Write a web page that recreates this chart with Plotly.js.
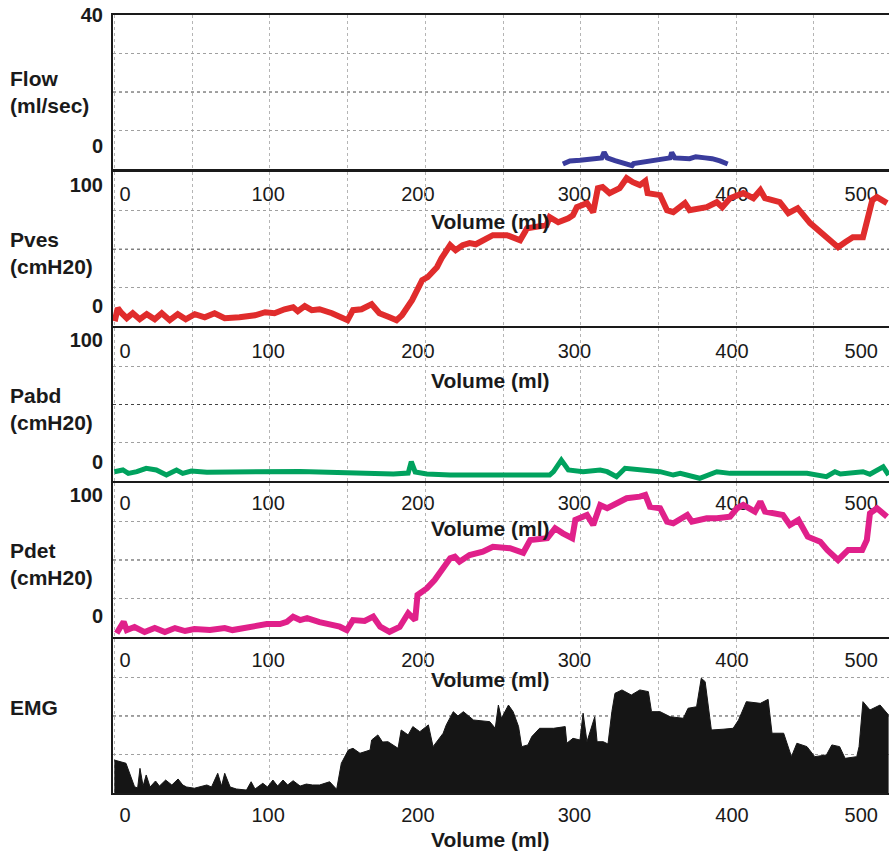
<!DOCTYPE html>
<html>
<head>
<meta charset="utf-8">
<script src="https://cdn.plot.ly/plotly-3.0.1.min.js"></script>
<style>html,body{margin:0;padding:0;background:#fff;}#chart{width:889px;height:852px;}</style>
</head>
<body>
<div id="chart"></div>
<script>
// x values: recording time in grid divisions; volume tick labels sit where that volume was reached
const volTickPos = [0.138, 1.978, 3.904, 5.918, 7.945, 9.608];
const volTickText = ['0', '100', '200', '300', '400', '500'];
const xTitleText = 'Volume (ml)';

// Flow (ml/sec)
const flowT = [5.77,5.86,5.99,6.12,6.19,6.27,6.30,6.34,6.44,6.57,6.66,6.68,6.83,7.02,7.15,7.17,7.21,7.40,7.48,7.60,7.69,7.79,7.89];
const flowV = [1.3,2.1,2.3,2.6,3.0,2.9,4.4,2.9,2.2,1.6,0.9,1.4,1.8,2.3,2.9,4.3,2.9,2.7,3.2,2.9,2.7,2.1,1.3];

// Pves (cmH20)
const pvesT = [0.005,0.044,0.095,0.16,0.237,0.327,0.417,0.52,0.61,0.713,0.816,0.919,1.035,1.163,1.29,1.42,1.61,1.81,1.94,2.06,2.19,2.30,2.36,2.45,2.54,2.64,2.80,2.94,3.00,3.07,3.18,3.31,3.41,3.54,3.63,3.70,3.83,3.96,4.03,4.15,4.21,4.32,4.39,4.48,4.57,4.65,4.74,4.87,5.05,5.22,5.31,5.47,5.56,5.60,5.71,5.84,5.90,5.95,6.08,6.16,6.22,6.28,6.37,6.50,6.59,6.67,6.76,6.83,6.86,7.02,7.11,7.19,7.34,7.40,7.62,7.75,7.82,7.92,8.09,8.22,8.31,8.37,8.56,8.67,8.79,8.95,9.05,9.17,9.31,9.40,9.50,9.63,9.69,9.75,9.81,9.94];
const pvesV = [3.2,11.7,8.4,5.2,8.4,4.5,7.8,4.5,8.4,3.9,7.8,4.5,7.8,5.8,8.4,5.2,5.8,7.1,9.1,8.4,11.0,12.3,9.7,13.0,10.4,11.0,8.4,5.8,3.9,10.4,11.0,14.3,8.4,5.8,3.9,7.1,16.9,29.9,31.8,38.3,44.2,52.6,49.4,52.6,53.9,53.2,55.8,59.1,59.1,55.8,63.6,64.9,65.6,70.8,67.5,70.1,72.1,77.3,79.9,74.0,89.6,90.3,86.4,89.6,96.1,93.5,91.6,94.2,86.4,85.1,75.3,74.0,79.9,75.3,77.3,80.5,77.3,83.1,86.4,83.1,88.3,83.1,80.5,73.4,76.6,66.9,62.3,57.1,51.3,54.5,57.8,57.8,68.8,81.8,83.8,79.9];

// Pabd (cmH20)
const pabdT = [0.0,0.11,0.18,0.29,0.41,0.54,0.67,0.80,0.88,0.99,1.19,2.39,3.59,3.78,3.82,3.87,4.02,4.32,5.60,5.65,5.75,5.84,6.03,6.25,6.34,6.46,6.57,7.02,7.19,7.28,7.53,7.62,7.75,7.92,8.60,8.91,9.16,9.27,9.34,9.63,9.72,9.89,9.96];
const pabdV = [6.1,7.2,5.0,6.1,8.3,7.2,3.9,7.2,5.0,6.5,5.7,6.3,4.6,5.2,12.6,5.9,4.6,3.9,3.9,6.1,13.7,7.2,6.1,7.2,6.1,2.8,8.3,6.1,3.9,5.0,1.8,3.9,6.1,5.0,5.4,5.0,2.8,6.1,4.6,6.1,4.4,9.3,3.9];

// Pdet (cmH20)
const pdetT = [0.03,0.12,0.16,0.26,0.39,0.52,0.65,0.78,0.91,1.03,1.23,1.42,1.52,1.78,1.96,2.13,2.22,2.30,2.39,2.48,2.64,2.90,2.99,3.07,3.22,3.33,3.42,3.54,3.67,3.78,3.87,3.90,4.02,4.12,4.23,4.32,4.38,4.44,4.57,4.74,4.87,5.09,5.26,5.35,5.57,5.67,5.77,5.89,5.93,6.08,6.16,6.25,6.34,6.47,6.59,6.76,6.83,6.89,7.02,7.11,7.19,7.37,7.43,7.62,7.75,7.92,8.01,8.09,8.24,8.31,8.37,8.60,8.69,8.80,8.92,9.08,9.17,9.31,9.44,9.62,9.68,9.72,9.81,9.94];
const pdetV = [2.4,9.9,4.5,6.5,3.2,5.8,3.2,5.8,3.9,5.2,4.5,5.8,4.5,6.7,8.4,8.4,9.9,13.2,11.0,12.3,9.7,6.7,4.5,11.0,10.4,13.2,6.7,3.4,6.5,15.4,11.0,27.3,31.6,37.0,44.6,51.1,52.1,48.9,53.2,55.4,58.6,57.6,54.7,63.0,64.1,70.6,67.3,64.1,76.0,79.2,72.7,85.7,83.6,86.8,90.1,91.1,92.2,84.6,83.6,74.9,73.8,79.2,74.9,77.1,77.1,78.1,83.6,85.7,81.4,87.9,81.4,79.2,72.7,76.0,65.1,61.9,56.5,50.0,56.5,56.5,63.0,80.3,83.6,78.1];

// EMG (relative amplitude)
const emgT = [0.0,0.15,0.26,0.30,0.33,0.37,0.41,0.46,0.53,0.58,0.66,0.74,0.82,0.88,0.93,1.03,1.19,1.25,1.33,1.38,1.42,1.49,1.57,1.70,1.76,1.81,1.91,1.97,2.04,2.10,2.17,2.23,2.30,2.39,2.47,2.55,2.64,2.77,2.86,2.92,3.01,3.07,3.16,3.29,3.31,3.39,3.45,3.52,3.65,3.69,3.78,3.84,3.93,4.04,4.10,4.23,4.27,4.36,4.42,4.49,4.62,4.83,4.90,4.94,4.98,5.07,5.13,5.20,5.24,5.32,5.37,5.47,5.65,5.80,5.82,5.90,5.99,6.03,6.08,6.18,6.21,6.29,6.35,6.40,6.44,6.53,6.65,6.76,6.87,6.91,7.02,7.15,7.32,7.38,7.49,7.55,7.60,7.68,7.83,7.96,8.03,8.13,8.31,8.41,8.46,8.61,8.71,8.78,8.91,9.01,9.16,9.23,9.33,9.40,9.55,9.58,9.63,9.72,9.85,9.96];
const emgV = [21.4,19.3,4.1,3.2,16.0,4.5,11.7,3.9,7.8,4.5,8.4,5.2,9.1,5.2,3.9,3.1,5.2,3.9,12.8,4.5,12.8,3.9,2.6,1.9,7.3,2.6,6.3,3.9,8.4,4.5,8.4,5.2,8.0,4.5,5.8,5.2,5.2,7.3,2.4,19.3,27.9,29.0,25.8,27.9,34.4,37.7,33.1,33.3,29.0,40.9,37.7,43.1,39.8,44.2,30.1,38.8,44.2,52.8,50.0,52.8,47.4,46.3,42.0,57.1,48.5,57.1,52.8,43.1,30.1,31.2,36.6,42.0,42.0,43.1,32.3,35.5,34.4,51.8,33.3,49.5,33.3,33.3,31.8,52.8,64.7,66.9,63.6,66.9,65.8,52.8,52.8,49.5,48.5,55.0,56.0,74.5,72.3,40.9,41.4,42.0,47.4,59.3,58.2,60.8,38.8,38.8,23.6,32.3,30.1,23.6,24.7,31.2,30.1,22.5,23.6,30.1,59.3,53.9,57.1,50.6];

// panel labels and y tick labels
const panelLabels = ['Flow<br>(ml/sec)', 'Pves<br>(cmH20)', 'Pabd<br>(cmH20)', 'Pdet<br>(cmH20)', 'EMG'];
const yMax = [40, 100, 100, 100, 100];
const yTickPos = [[40, 6.0], [91.6, 13.0], [92.2, 12.6], [92.2, 13.6], []];
const yTickText = [['40', '0'], ['100', '0'], ['100', '0'], ['100', '0'], []];

const FONT = 'Arial, "Liberation Sans", Helvetica, sans-serif';
const INK = '#1a1a1a';

const traces = [
  {x: flowT, y: flowV, xaxis: 'x', yaxis: 'y', mode: 'lines', line: {color: '#3a3c9c', width: 5}},
  {x: pvesT, y: pvesV, xaxis: 'x2', yaxis: 'y2', mode: 'lines', line: {color: '#e02c2c', width: 6}},
  {x: pabdT, y: pabdV, xaxis: 'x3', yaxis: 'y3', mode: 'lines', line: {color: '#00a25e', width: 5}},
  {x: pdetT, y: pdetV, xaxis: 'x4', yaxis: 'y4', mode: 'lines', line: {color: '#e0208a', width: 6}},
  {x: emgT, y: emgV, xaxis: 'x5', yaxis: 'y5', mode: 'lines', fill: 'tozeroy', fillcolor: '#151515', line: {color: '#151515', width: 1}}
];

const domains = [[0.802, 1], [0.600, 0.798], [0.401, 0.5977], [0.2005, 0.3985], [0, 0.198]];
const labelY = [0.5, 0.474, 0.47, 0.474, 0.552];
const xLabelStand = [6, 6, 3, 4, 3];
const xTitleY = [-0.338, -0.351, -0.307, -0.273, -0.305];

const layout = {
  width: 889, height: 852,
  margin: {l: 113, r: 0, t: 15, b: 59, pad: 0},
  paper_bgcolor: '#ffffff', plot_bgcolor: 'rgba(0,0,0,0)',
  showlegend: false,
  font: {family: FONT, color: INK},
  annotations: [], shapes: []
};

for (let i = 0; i < 5; i++) {
  const sx = i === 0 ? '' : String(i + 1);
  layout['xaxis' + sx] = {
    anchor: 'y' + sx, domain: [0, 1], range: [-0.017, 9.965],
    tickmode: 'array', tickvals: volTickPos, ticktext: volTickText,
    ticks: '', ticklabelstandoff: xLabelStand[i],
    tickfont: {family: FONT, size: 20, color: INK},
    showgrid: false, zeroline: false,
    showline: true, linewidth: 2, linecolor: INK, mirror: true,
    minor: {tickmode: 'linear', tick0: 0, dtick: 1, ticks: '', showgrid: true, gridcolor: '#b5b5b5', griddash: 'dot', gridwidth: 1},
    fixedrange: true
  };
  const m = yMax[i];
  layout['yaxis' + sx] = {
    anchor: 'x' + sx, domain: domains[i], range: [0, m],
    tickmode: 'array', tickvals: yTickPos[i], ticktext: yTickText[i],
    ticks: '', ticklabelstandoff: 4,
    tickfont: {family: FONT, size: 20, color: INK, weight: 'bold'},
    showgrid: false, zeroline: false,
    showline: true, linewidth: 2, linecolor: INK, mirror: false,
    minor: {tickmode: 'array', tickvals: [m * 0.25, m * 0.75], ticks: '', showgrid: true, gridcolor: '#a0a0a0', griddash: 'dot', gridwidth: 1},
    fixedrange: true
  };
  layout.shapes.push({type: 'line', layer: 'below', xref: 'x' + sx + ' domain', x0: 0, x1: 1, yref: 'y' + sx, y0: m * 0.5, y1: m * 0.5, line: {color: '#444', width: 1, dash: 'dot'}});
  layout.annotations.push({
    text: panelLabels[i], xref: 'paper', x: -0.1353, xanchor: 'left',
    yref: 'y' + sx + ' domain', y: labelY[i], yanchor: 'middle', align: 'left',
    showarrow: false, font: {family: FONT, size: 21, color: INK, weight: 'bold'}
  });
  layout.annotations.push({
    text: xTitleText, xref: 'paper', x: 0.487, xanchor: 'center',
    yref: 'y' + sx + ' domain', y: xTitleY[i], yanchor: 'middle',
    showarrow: false, font: {family: FONT, size: 21, color: INK, weight: 'bold'}
  });
}

Plotly.newPlot('chart', traces, layout, {displayModeBar: false, staticPlot: true});
</script>
</body>
</html>
